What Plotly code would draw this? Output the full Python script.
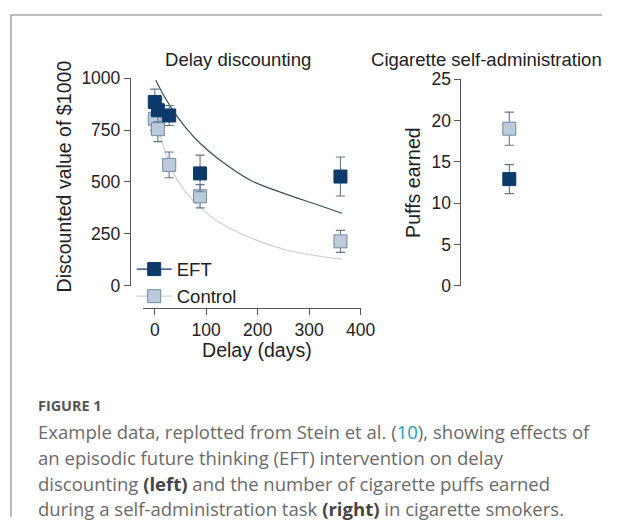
import plotly.graph_objects as go

W, H = 617, 527

# ---- data ----
eft_delay = [0, 6, 28, 88, 361]
eft_value = [885, 845, 820, 541, 526]
eft_err = [62, 55, 48, 88, 94]

ctrl_delay = [0, 6, 28, 88, 361]
ctrl_value = [804, 754, 582, 431, 214]
ctrl_err = [56, 60, 62, 56, 53]

eft_curve_delay = [2, 20, 40, 60, 89, 122, 186, 251, 316, 364]
eft_curve_value = [990, 905, 828, 762, 684, 614, 508, 445, 390, 349]

ctrl_curve_delay = [2, 5, 12, 20, 31, 45, 60, 89, 122, 186, 251, 316, 364]
ctrl_curve_value = [810, 757, 712, 648, 572, 505, 452, 375, 311, 231, 176, 144, 128]

groups = ["EFT", "Control"]
puffs = [12.9, 19.0]
puffs_err = [1.75, 2.0]

x_ticks = [0, 100, 200, 300, 400]
y1_ticks = [0, 250, 500, 750, 1000]
y2_ticks = [0, 5, 10, 15, 20, 25]

# ---- styles ----
DARK = "#0b3a6b"
LIGHT = "#bccbdb"
LIGHT_EDGE = "#7089a3"
ERR = "#5f778f"
AXIS = "#555555"
FONT = "Liberation Sans, Arial, Helvetica, sans-serif"

# the photographed page comes out slightly reduced; these map target pixels
# of the final picture onto figure (paper) fractions
SX, OX = 0.977, -1.0
SY, OY = 0.968, 7.5
FS = 1.03  # font / marker compensation


def px(x):
    return ((x - OX) / SX) / W


def py(y):
    return 1 - ((y - OY) / SY) / H


def f(s):
    return s * FS


fig = go.Figure()

fig.add_trace(go.Scatter(x=eft_curve_delay, y=eft_curve_value, mode="lines",
                         line=dict(color="#33505f", width=1.2, shape="spline", smoothing=1),
                         showlegend=False, hoverinfo="skip", xaxis="x", yaxis="y"))
fig.add_trace(go.Scatter(x=ctrl_curve_delay, y=ctrl_curve_value, mode="lines",
                         line=dict(color="#cfcfcf", width=1.2, shape="spline", smoothing=1),
                         showlegend=False, hoverinfo="skip", xaxis="x", yaxis="y"))

MS = 13
fig.add_trace(go.Scatter(x=ctrl_delay, y=ctrl_value, mode="markers",
                         marker=dict(symbol="square", size=MS, color=LIGHT,
                                     line=dict(color=LIGHT_EDGE, width=1)),
                         error_y=dict(type="data", array=ctrl_err, color=ERR,
                                      thickness=1.1, width=4.6),
                         cliponaxis=False, showlegend=False, xaxis="x", yaxis="y"))
fig.add_trace(go.Scatter(x=eft_delay, y=eft_value, mode="markers",
                         marker=dict(symbol="square", size=MS, color=DARK,
                                     line=dict(color=DARK, width=1)),
                         error_y=dict(type="data", array=eft_err, color=ERR,
                                      thickness=1.1, width=4.6),
                         cliponaxis=False, showlegend=False, xaxis="x", yaxis="y"))

fig.add_trace(go.Scatter(x=[1], y=[puffs[1]], mode="markers",
                         marker=dict(symbol="square", size=MS, color=LIGHT,
                                     line=dict(color=LIGHT_EDGE, width=1)),
                         error_y=dict(type="data", array=[puffs_err[1]], color=ERR,
                                      thickness=1.1, width=4.6),
                         cliponaxis=False, showlegend=False, xaxis="x2", yaxis="y2"))
fig.add_trace(go.Scatter(x=[1], y=[puffs[0]], mode="markers",
                         marker=dict(symbol="square", size=MS, color=DARK,
                                     line=dict(color=DARK, width=1)),
                         error_y=dict(type="data", array=[puffs_err[0]], color=ERR,
                                      thickness=1.1, width=4.6),
                         cliponaxis=False, showlegend=False, xaxis="x2", yaxis="y2"))

fig.add_trace(go.Scatter(x=[None], y=[None], mode="lines+markers", name=groups[0],
                         line=dict(color=DARK, width=1.2),
                         marker=dict(symbol="square", size=MS, color=DARK,
                                     line=dict(color=DARK, width=1)),
                         xaxis="x", yaxis="y"))
fig.add_trace(go.Scatter(x=[None], y=[None], mode="lines+markers", name=groups[1],
                         line=dict(color="#cfcfcf", width=1.2),
                         marker=dict(symbol="square", size=MS, color=LIGHT,
                                     line=dict(color=LIGHT_EDGE, width=1)),
                         xaxis="x", yaxis="y"))

axis_common = dict(showline=True, linecolor=AXIS, linewidth=1, ticks="outside",
                   ticklen=6, tickcolor=AXIS, tickwidth=1, showgrid=False,
                   zeroline=False, tickfont=dict(family=FONT, size=f(17), color="#222"))

fig.update_layout(
    width=W, height=H, margin=dict(l=0, r=0, t=0, b=0),
    paper_bgcolor="white", plot_bgcolor="rgba(0,0,0,0)",
    font=dict(family=FONT, color="#222"),
    xaxis=dict(domain=[px(142), px(360)], range=[-23.3, 400], anchor="free",
               position=py(307), tickvals=x_ticks, **axis_common),
    yaxis=dict(domain=[py(285), py(76)], range=[0, 1000], anchor="free",
               position=px(129), tickvals=y1_ticks, **axis_common),
    xaxis2=dict(domain=[px(460), px(558)], range=[0, 2], visible=False),
    yaxis2=dict(domain=[py(285), py(77)], range=[0, 25], anchor="free",
                position=px(460), tickvals=y2_ticks, **axis_common),
    legend=dict(x=135 / W, y=1 - 250 / H, xanchor="left", yanchor="top", itemwidth=35,
                bgcolor="rgba(0,0,0,0)", font=dict(family=FONT, size=f(18), color="#222"),
                tracegroupgap=0),
    showlegend=True,
)

ann = []
ann.append(dict(text="Delay discounting", x=px(237), y=py(57), xref="paper", yref="paper",
                showarrow=False, xanchor="center", yanchor="middle",
                font=dict(family=FONT, size=f(18), color="#222")))
ann.append(dict(text="Cigarette self-administration", x=px(486), y=py(57), xref="paper",
                yref="paper", showarrow=False, xanchor="center", yanchor="middle",
                font=dict(family=FONT, size=f(18), color="#222")))
ann.append(dict(text="Discounted value of $1000", x=px(64), y=py(175), xref="paper",
                yref="paper", showarrow=False, xanchor="center", yanchor="middle",
                textangle=-90, font=dict(family=FONT, size=f(19), color="#222")))
ann.append(dict(text="Delay (days)", x=px(256), y=py(350), xref="paper", yref="paper",
                showarrow=False, xanchor="center", yanchor="middle",
                font=dict(family=FONT, size=f(19), color="#222")))
ann.append(dict(text="Puffs earned", x=px(413), y=py(181), xref="paper", yref="paper",
                showarrow=False, xanchor="center", yanchor="middle",
                textangle=-90, font=dict(family=FONT, size=f(19), color="#222")))

CAP = "Open Sans, Noto Sans, sans-serif"
ann.append(dict(text="<b>FIGURE 1</b>", x=px(35), y=py(405), xref="paper", yref="paper",
                showarrow=False, xanchor="left", yanchor="middle",
                font=dict(family=CAP, size=f(14), color="#555")))
caption_lines = [
    "Example data, replotted from Stein et al. (<span style='color:#1a9cb5'>10</span>), showing effects of",
    "an episodic future thinking (EFT) intervention on delay",
    "discounting <b><span style='color:#444'>(left)</span></b> and the number of cigarette puffs earned",
    "during a self-administration task <b><span style='color:#444'>(right)</span></b> in cigarette smokers.",
]
caption_y = [432, 458, 484, 509]
for t, yy in zip(caption_lines, caption_y):
    ann.append(dict(text=t, x=px(35), y=py(yy), xref="paper", yref="paper",
                    showarrow=False, xanchor="left", yanchor="middle",
                    font=dict(family=CAP, size=f(18.0), color="#6a6a6a")))
fig.update_layout(annotations=ann)

fig.update_layout(shapes=[
    dict(type="line", xref="paper", yref="paper", x0=px(10), x1=px(10), y0=0, y1=py(12.5),
         line=dict(color="#777", width=1)),
    dict(type="line", xref="paper", yref="paper", x0=px(10), x1=1, y0=py(12.5), y1=py(12.5),
         line=dict(color="#777", width=1)),
])

post = ("document.documentElement.style.margin='0';"
        "document.documentElement.style.overflow='hidden';"
        "document.body.style.margin='0';document.body.style.padding='0';"
        "document.body.style.overflow='hidden';")
fig.write_html("out.html", post_script=post, config={"displayModeBar": False})
